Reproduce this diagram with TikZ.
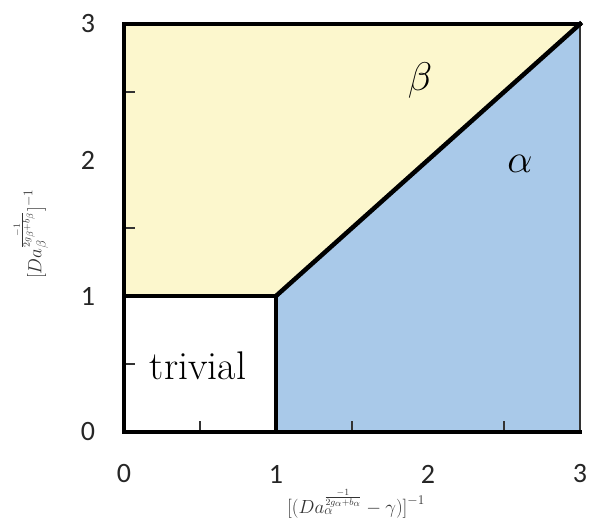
\documentclass[tikz,border=0pt]{standalone}
\usepackage{fix-cm}
\usepackage{fontspec}
\newfontfamily\tickfont{Carlito}
\definecolor{yel}{RGB}{252,247,205}
\definecolor{blu}{RGB}{169,201,233}
\begin{document}
\begin{tikzpicture}[x=1pt,y=-1pt,
  ticklab/.style={font=\tickfont\fontsize{28}{28}\selectfont, text=black!85, inner sep=0pt},
  region/.style={font=\fontsize{40}{40}\selectfont},
  axlab/.style={font=\fontsize{19}{20}\selectfont, text=black!80, inner sep=0pt},
  bound/.style={line width=4.5pt, black},
  tickmark/.style={line width=1.3pt, black!80}]
\useasboundingbox (0,0) rectangle (589,527);
\coordinate (o) at (124,432);
\coordinate (p) at (276,296);
\coordinate (q) at (580,24);
\coordinate (l1) at (124,296);
\coordinate (b1) at (276,432);
\coordinate (tl) at (124,24);
\coordinate (br) at (580,432);
\fill[yel] (l1) -- (tl) -- (q) -- (p) -- cycle;
\fill[blu] (b1) -- (p) -- (q) -- (br) -- cycle;
\draw[line width=1.2pt, black!80] (q) -- (br);
\draw[bound, line cap=rect] (tl) -- (q);
\draw[bound, line cap=rect] (tl) -- (o) -- (br);
\draw[bound] (l1) -- (p) -- (b1);
\draw[bound, line cap=rect] (p) -- (q);
\foreach \x in {200,352,504} \draw[tickmark] (\x,430) -- (\x,421);
\foreach \y in {364,228,92} \draw[tickmark] (126,\y) -- (135,\y);
\node[ticklab] (x0) at (124,474) {0};
\node[ticklab] (x1) at (276,474) {1};
\node[ticklab] (x2) at (428,474) {2};
\node[ticklab] (x3) at (580,474) {3};
\node[ticklab] (y0) at (88,432) {0};
\node[ticklab] (y1) at (88,296) {1};
\node[ticklab] (y2) at (88,160) {2};
\node[ticklab] (y3) at (88,24) {3};
\node[region] (beta) at (420,80) {$\beta$};
\node[region] (alpha) at (520,164) {$\alpha$};
\node[region] (triv) at (198,366) {trivial};
\node[axlab] (xl) at (356,504) {$\bigl[(Da_\alpha^{\frac{-1}{2g_\alpha+b_\alpha}}-\gamma)\bigr]^{-1}$};
\node[axlab, rotate=90] (yl) at (31,234) {$\bigl[Da_\beta^{\frac{-1}{2g_\beta+b_\beta}}\bigr]^{-1}$};
\end{tikzpicture}
\end{document}
